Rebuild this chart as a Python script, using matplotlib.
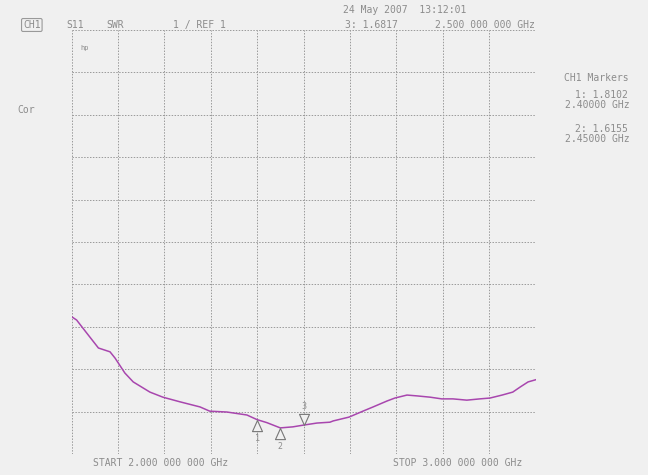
import matplotlib.pyplot as plt
from matplotlib.path import Path

freq_ghz = [2.000, 2.011, 2.033, 2.058, 2.083, 2.094, 2.115, 2.133, 2.169, 2.197,
            2.234, 2.277, 2.298, 2.335, 2.378, 2.400, 2.421, 2.450, 2.477, 2.500,
            2.529, 2.557, 2.564, 2.598, 2.628, 2.650, 2.680, 2.697, 2.723, 2.745,
            2.773, 2.798, 2.822, 2.852, 2.880, 2.902, 2.928, 2.951, 2.967, 2.984,
            3.000]
swr = [4.24, 4.16, 3.85, 3.50, 3.41, 3.26, 2.91, 2.70, 2.46, 2.34,
       2.23, 2.11, 2.01, 1.99, 1.92, 1.8102, 1.74, 1.6155, 1.64, 1.6817,
       1.73, 1.75, 1.78, 1.87, 2.01, 2.11, 2.25, 2.32, 2.39, 2.37,
       2.34, 2.30, 2.30, 2.27, 2.30, 2.32, 2.39, 2.46, 2.58, 2.70,
       2.75]

# markers: number, frequency, value
marker_ids = ["1", "2", "3"]
marker_freq = [2.40, 2.45, 2.50]
marker_swr = [1.8102, 1.6155, 1.6817]

bg = "#f0f0f0"
txt = "#8c8c8c"
mono = "DejaVu Sans Mono"

fig = plt.figure(figsize=(6.48, 4.75), dpi=100, facecolor=bg)
ax = fig.add_axes([71.5 / 648, 21 / 475, 464 / 648, 424 / 475], facecolor=bg)

ax.set_xlim(2.0, 3.0)
ax.set_ylim(1.0, 11.0)
ax.set_xticks([2.0 + 0.1 * i for i in range(11)])
ax.set_yticks([1.0 + i for i in range(11)])
ax.grid(True, color="#9a9a9a", linestyle=(0, (1.5, 1.5)), linewidth=0.7)
ax.tick_params(length=0, labelbottom=False, labelleft=False)
for s in ax.spines.values():
    s.set_visible(False)

ax.plot(freq_ghz, swr, color="#a846ae", linewidth=1.1, zorder=3)

# triangle markers with the apex on the trace
up = Path([(0, 0), (-0.45, -1), (0.45, -1), (0, 0)],
          [Path.MOVETO, Path.LINETO, Path.LINETO, Path.CLOSEPOLY])
down = Path([(0, 0), (-0.45, 1), (0.45, 1), (0, 0)],
            [Path.MOVETO, Path.LINETO, Path.LINETO, Path.CLOSEPOLY])
for mid, f, v in zip(marker_ids, marker_freq, marker_swr):
    if mid == "3":
        ax.plot(f, v, marker=down, markersize=16, markerfacecolor=bg,
                markeredgecolor="#777777", markeredgewidth=0.8, zorder=4)
        ax.annotate(mid, (f, v), xytext=(0, 10), textcoords="offset points",
                    ha="center", va="bottom", fontsize=6, color=txt, family=mono)
    else:
        ax.plot(f, v, marker=up, markersize=16, markerfacecolor=bg,
                markeredgecolor="#777777", markeredgewidth=0.8, zorder=4)
        ax.annotate(mid, (f, v), xytext=(0, -10), textcoords="offset points",
                    ha="center", va="top", fontsize=6, color=txt, family=mono)

ax.text(0.02, 0.965, "hp", transform=ax.transAxes, fontsize=5, color=txt,
        family=mono, va="top")

# header and footer annotations
tk = dict(fontsize=7, color=txt, family=mono, va="center")
fig.text(23 / 648, 1 - 25 / 475, "CH1", bbox=dict(boxstyle="round,pad=0.15",
         facecolor=bg, edgecolor="#999999", linewidth=0.8), **tk)
fig.text(66 / 648, 1 - 25 / 475, "S11", **tk)
fig.text(106 / 648, 1 - 25 / 475, "SWR", **tk)
fig.text(173 / 648, 1 - 25 / 475, "1 / REF 1", **tk)
fig.text(343 / 648, 1 - 10 / 475, "24 May 2007  13:12:01", **tk)
fig.text(345 / 648, 1 - 25 / 475, "3: 1.6817", **tk)
fig.text(435 / 648, 1 - 25 / 475, "2.500 000 000 GHz", **tk)
fig.text(17 / 648, 1 - 110 / 475, "Cor", **tk)
fig.text(93 / 648, 1 - 463 / 475, "START 2.000 000 000 GHz", **tk)
fig.text(393 / 648, 1 - 463 / 475, "STOP 3.000 000 000 GHz", **tk)

fig.text(564 / 648, 1 - 78 / 475, "CH1 Markers", **tk)
fig.text(575 / 648, 1 - 95 / 475, "1: 1.8102", **tk)
fig.text(565 / 648, 1 - 105 / 475, "2.40000 GHz", **tk)
fig.text(575 / 648, 1 - 129 / 475, "2: 1.6155", **tk)
fig.text(565 / 648, 1 - 139 / 475, "2.45000 GHz", **tk)

fig.savefig("out.png", dpi=100, facecolor=bg)
